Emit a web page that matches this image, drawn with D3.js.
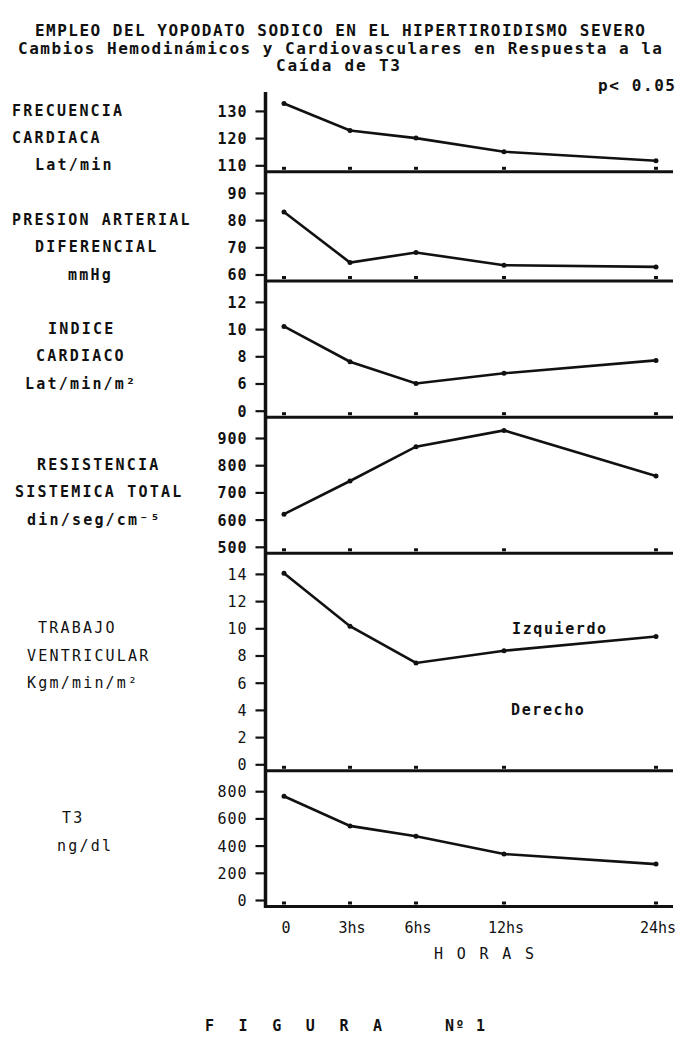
<!DOCTYPE html>
<html>
<head>
<meta charset="utf-8">
<script src="https://cdn.jsdelivr.net/npm/d3@7"></script>
<style>
  body { margin: 0; background: #fff; }
  text { font-family: "DejaVu Sans Mono", monospace; fill: #111; }
</style>
</head>
<body>
<script>
// time points
var hours = [0, 3, 6, 12, 24];
var hourLabels = ["0", "3hs", "6hs", "12hs", "24hs"];

// series values
var frecuencia = [132.7, 122.8, 120, 115, 111.7];
var presion = [83, 64.4, 68.1, 63.4, 62.8];
var indice = [10.2, 7.6, 6.0, 6.75, 7.7];
var resistencia = [620, 742, 868, 928, 760];
var trabajo = [14.05, 10.15, 7.45, 8.35, 9.4];
var t3 = [763, 545, 469, 338, 264];

// tick labels for each panel
var frecTicks = [110, 120, 130];
var presTicks = [60, 70, 80, 90];
var indTicks = [0, 6, 8, 10, 12];
var resTicks = [500, 600, 700, 800, 900];
var trabTicks = [0, 2, 4, 6, 8, 10, 12, 14];
var t3Ticks = [0, 200, 400, 600, 800];

// panel labels
var frecLabel = ["FRECUENCIA", "CARDIACA", "Lat/min"];
var presLabel = ["PRESION ARTERIAL", "DIFERENCIAL", "mmHg"];
var indLabel = ["INDICE", "CARDIACO", "Lat/min/m\u00B2"];
var resLabel = ["RESISTENCIA", "SISTEMICA TOTAL", "din/seg/cm\u207B\u2075"];
var trabLabel = ["TRABAJO", "VENTRICULAR", "Kgm/min/m\u00B2"];
var t3Label = ["T3", "ng/dl"];

const WIDTH = 700;
const HEIGHT = 1045;
const AXIS_X = 265.5;
const RIGHT = 673;
const STEP = 27.2;

var xScale = d3.scaleLinear()
    .domain(hours)
    .range([284, 350, 416, 504, 656]);

// layout: y of lowest tick, label rows (tick value) and label x
var panels = [
  { values: frecuencia, ticks: frecTicks, label: frecLabel, base: 165.3,
    rows: [130, 120, 110], lx: [12, 12, 35], bold: true },
  { values: presion, ticks: presTicks, label: presLabel, base: 274.5,
    rows: [80, 70, 60], lx: [12, 35, 68], bold: true },
  { values: indice, ticks: indTicks, label: indLabel, base: 410.7,
    rows: [10, 8, 6], lx: [48, 36, 25], bold: true },
  { values: resistencia, ticks: resTicks, label: resLabel, base: 546.8,
    rows: [800, 700, 600], lx: [37, 15, 27], bold: true },
  { values: trabajo, ticks: trabTicks, label: trabLabel, base: 764.3,
    rows: [10, 8, 6], lx: [38, 27, 27], bold: false },
  { values: t3, ticks: t3Ticks, label: t3Label, base: 900,
    rows: [600, 400], lx: [62, 57], bold: false }
];

var svg = d3.select("body")
    .append("svg")
    .attr("width", WIDTH)
    .attr("height", HEIGHT);

// titles
var titles = [
  { t: "EMPLEO DEL YOPODATO SODICO EN EL HIPERTIROIDISMO SEVERO", x: 35, y: 36, w: 610 },
  { t: "Cambios Hemodin\u00E1micos y Cardiovasculares en Respuesta a la", x: 18, y: 54, w: 644 },
  { t: "Ca\u00EDda de T3", x: 276, y: 71, w: 124 }
];
svg.selectAll("text.title")
  .data(titles)
  .enter()
  .append("text")
  .attr("class", "title")
  .attr("x", d => d.x)
  .attr("y", d => d.y)
  .attr("textLength", d => d.w)
  .attr("lengthAdjust", "spacing")
  .attr("font-size", "16px")
  .attr("font-weight", "bold")
  .text(d => d.t);

svg.append("text")
  .attr("x", 598).attr("y", 91)
  .attr("textLength", 77).attr("lengthAdjust", "spacing")
  .attr("font-size", "16px").attr("font-weight", "bold")
  .text("p< 0.05");

var line = d3.line()
  .x((d, i) => xScale(hours[i]))
  .y(d => d);

panels.forEach(function(p) {
  var yScale = d3.scaleLinear()
    .domain(p.ticks)
    .range(p.ticks.map((t, i) => p.base - i * STEP));
  var sep = p.base + 6.5;
  var weight = p.bold ? "bold" : "normal";

  // y axis ticks
  var axis = d3.axisLeft(yScale)
    .tickValues(p.ticks)
    .tickSize(10)
    .tickPadding(8)
    .tickFormat(d3.format("d"));
  var g = svg.append("g")
    .attr("transform", `translate(${AXIS_X},0)`)
    .call(axis);
  g.select(".domain").remove();
  g.selectAll(".tick line").attr("stroke", "#111").attr("stroke-width", 2.2);
  g.selectAll(".tick text")
    .attr("font-family", "DejaVu Sans Mono, monospace")
    .attr("font-size", "15px")
    .attr("font-weight", weight)
    .attr("fill", "#111")
    .attr("letter-spacing", "1px")
    .attr("dy", "0.36em");

  // separator line
  svg.append("line")
    .attr("x1", AXIS_X).attr("x2", RIGHT)
    .attr("y1", sep).attr("y2", sep)
    .attr("stroke", "#111").attr("stroke-width", 3);

  // baseline markers
  svg.selectAll(null)
    .data(hours)
    .enter()
    .append("rect")
    .attr("x", d => xScale(d) - 2)
    .attr("y", sep - 5)
    .attr("width", 4)
    .attr("height", 3)
    .attr("fill", "#111");

  // series
  var ys = p.values.map(v => yScale(v));
  svg.append("path")
    .attr("d", line(ys))
    .attr("fill", "none")
    .attr("stroke", "#111")
    .attr("stroke-width", 2.6);
  svg.selectAll(null)
    .data(p.values)
    .enter()
    .append("circle")
    .attr("cx", (d, i) => xScale(hours[i]))
    .attr("cy", d => yScale(d))
    .attr("r", 2.5)
    .attr("fill", "#111");

  // left labels
  svg.selectAll(null)
    .data(p.label)
    .enter()
    .append("text")
    .attr("x", (d, i) => p.lx[i])
    .attr("y", (d, i) => yScale(p.rows[i]) + 5)
    .attr("font-size", "15px")
    .attr("font-weight", weight)
    .attr("letter-spacing", "2.2px")
    .text(d => d);
});

// vertical axis
svg.append("line")
  .attr("x1", AXIS_X).attr("x2", AXIS_X)
  .attr("y1", 92).attr("y2", 908)
  .attr("stroke", "#111").attr("stroke-width", 3.5);

// series names in ventricular panel
svg.append("text").attr("x", 512).attr("y", 634)
  .attr("font-size", "15px").attr("font-weight", "bold")
  .attr("letter-spacing", "1.6px").text("Izquierdo");
svg.append("text").attr("x", 511).attr("y", 715)
  .attr("font-size", "15px").attr("font-weight", "bold")
  .attr("letter-spacing", "1.6px").text("Derecho");

// x axis labels
svg.selectAll("text.hour")
  .data(hours)
  .enter()
  .append("text")
  .attr("class", "hour")
  .attr("x", d => xScale(d) + 2)
  .attr("y", 933)
  .attr("text-anchor", "middle")
  .attr("font-size", "15px")
  .text((d, i) => hourLabels[i]);

svg.append("text")
  .attr("x", 434).attr("y", 959)
  .attr("textLength", 100).attr("lengthAdjust", "spacing")
  .attr("font-size", "15px")
  .text("H O R A S");

svg.append("text")
  .attr("x", 205).attr("y", 1031)
  .attr("textLength", 177).attr("lengthAdjust", "spacing")
  .attr("font-size", "15px").attr("font-weight", "bold")
  .text("F I G U R A");
svg.append("text")
  .attr("x", 445).attr("y", 1031)
  .attr("textLength", 40).attr("lengthAdjust", "spacing")
  .attr("font-size", "15px").attr("font-weight", "bold")
  .text("N\u00BA 1");
</script>
</body>
</html>
